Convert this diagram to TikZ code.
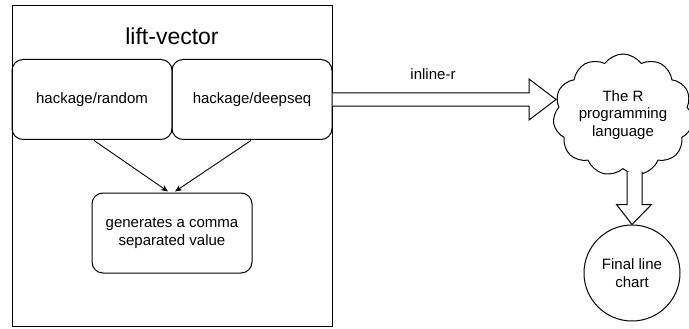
\documentclass[tikz,border=0pt]{standalone}
\usepackage{fontspec}
\setmainfont{Liberation Sans}
\usetikzlibrary{shapes.symbols,calc,arrows.meta}
\begin{document}
\begin{tikzpicture}[x=1pt,y=-1pt,
  every node/.style={font=\fontsize{15}{17.5}\selectfont, align=center, inner sep=0pt},
  rbox/.style={draw, line width=1pt, rounded corners=11pt, minimum width=160, minimum height=80},
  conn/.style={draw, line width=0.9pt, -{Stealth[length=7pt,width=6pt]}},
  blockarrow/.style={draw, line width=1pt, fill=white, line join=miter}]
\useasboundingbox (0,0) rectangle (689,329);
\node[draw, line width=1pt, minimum width=320, minimum height=320] (outer) at (172,166) {};
\node[font=\fontsize{23}{26}\selectfont] (title) at (172,36) {lift-vector};
\node[rbox] (rnd) at (92,99.5) {hackage/random};
\node[rbox] (dq) at (252,99.5) {hackage/deepseq};
\node[rbox] (csv) at (172,233) {generates a comma\\separated value};
\node[cloud, draw, line width=1pt, cloud puffs=11, cloud puff arc=110, cloud ignores aspect,
  minimum width=140, minimum height=122] (cloud) at (623,115) {The R\\programming\\language};
\node[circle, draw, line width=1pt, minimum size=96] (final) at (632,273) {Final line\\chart};
\node (lbl) at (433,74) {inline-r};
\draw[conn] ($(rnd.south)+(2,0.5)$) -- ($(csv.north)+(-4,-1)$);
\draw[conn] ($(dq.south)+(-1,0.5)$) -- ($(csv.north)+(3,-1)$);
\coordinate (tipR) at (556,99.5);
\draw[blockarrow] ($(outer.east |- dq.east)+(0,-6.7)$) -- ($(tipR)+(-27,-6.7)$) -- ($(tipR)+(-27,-20.5)$) -- (tipR)
  -- ($(tipR)+(-27,20.5)$) -- ($(tipR)+(-27,6.7)$) -- ($(outer.east |- dq.east)+(0,6.7)$);
\coordinate (topD) at (634.5,171.5);
\draw[blockarrow] ($(topD)+(-7.5,0)$) -- ($(topD)+(-7.5,33)$) -- ($(topD)+(-18,33)$) -- (final.north)
  -- ($(topD)+(17,33)$) -- ($(topD)+(7.5,33)$) -- ($(topD)+(7.5,0)$);
\end{tikzpicture}
\end{document}
